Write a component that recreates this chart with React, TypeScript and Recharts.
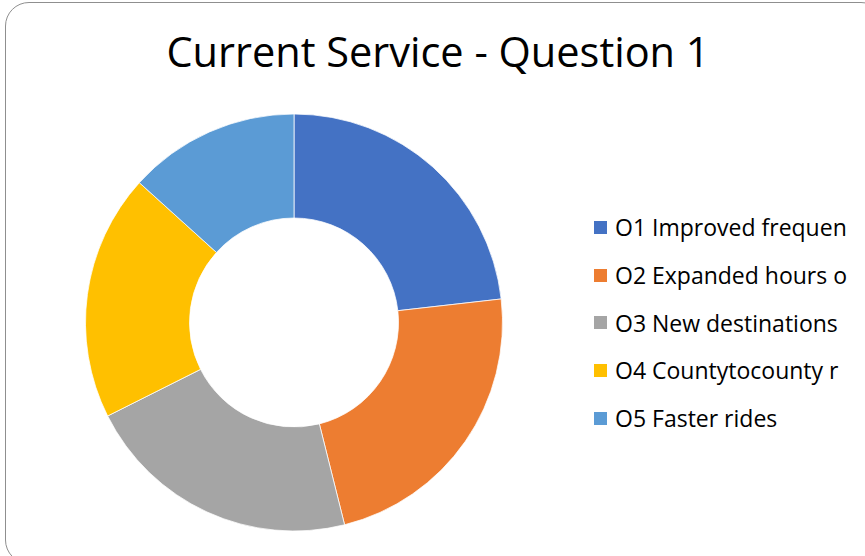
import { PieChart, Pie, Cell, Legend } from 'recharts';

const CATEGORIES = ['O1 Improved frequen', 'O2 Expanded hours o', 'O3 New destinations', 'O4 Countytocounty r', 'O5 Faster rides'];
const SHARES = [23.2, 22.9, 21.5, 19.1, 13.3];
const COLORS = ['#4472C4', '#ED7D31', '#A5A5A5', '#FFC000', '#5B9BD5'];

const data = CATEGORIES.map((name, i) => ({ name, value: SHARES[i] }));

const FONT = '"Open Sans", Lato, sans-serif';

const LegendList = ({ payload }: any) => (
  <div style={{ fontFamily: FONT, fontSize: 23, color: '#000', whiteSpace: 'nowrap' }}>
    {(payload || []).map((p: any, i: number) => (
      <div key={i} style={{ display: 'flex', alignItems: 'center', height: 47.7 }}>
        <span style={{ width: 13, height: 13, background: p.color, display: 'inline-block', marginRight: 8 }} />
        <span>{p.value}</span>
      </div>
    ))}
  </div>
);

export default function App() {
  return (
    <div style={{ position: 'absolute', left: 0, top: 0, width: 865, height: 556, overflow: 'hidden', background: '#fff' }}>
      <div style={{ position: 'absolute', left: 5, top: 2, width: 880, height: 562, border: '1px solid #8f8f8f', borderRadius: 24, boxSizing: 'border-box' }} />
      <div style={{ position: 'absolute', left: 0, top: 0 }}>
        <PieChart width={865} height={556} margin={{ top: 0, right: 0, bottom: 0, left: 0 }}>
          <text x={438} y={67} textAnchor="middle" fontFamily={FONT} fontSize={41.5} fill="#000">Current Service - Question 1</text>
          <Pie
            data={data}
            dataKey="value"
            nameKey="name"
            cx={294}
            cy={322.5}
            innerRadius={104.5}
            outerRadius={208.5}
            startAngle={90}
            endAngle={-270}
            stroke="#fff"
            strokeWidth={0.75}
            isAnimationActive={false}
          >
            {data.map((_, i) => <Cell key={i} fill={COLORS[i]} />)}
          </Pie>
          <Legend
            layout="vertical"
            content={<LegendList />}
            wrapperStyle={{ position: 'absolute', left: 594, top: 203.5, width: 300 }}
          />
        </PieChart>
      </div>
    </div>
  );
}
